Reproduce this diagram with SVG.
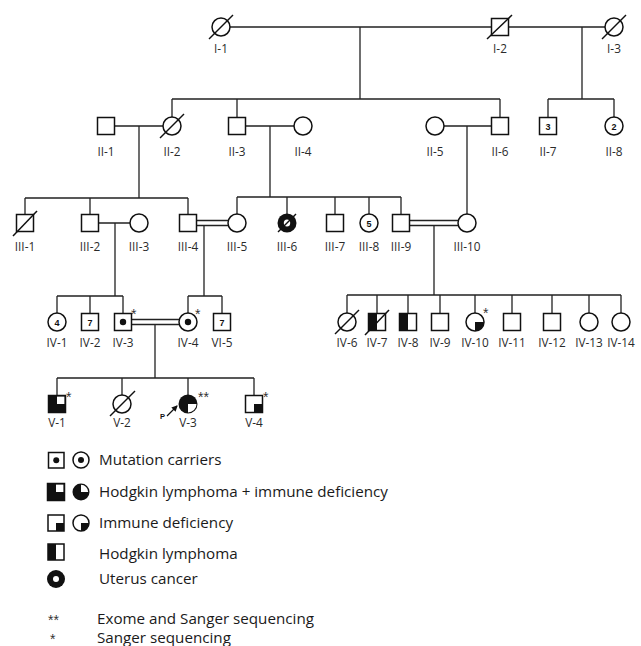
<svg xmlns="http://www.w3.org/2000/svg" width="641" height="646" viewBox="0 0 641 646">
<style>
.ln{stroke:#222;stroke-width:1.3;fill:none}
.s{stroke:#111;stroke-width:1.5;fill:#fff}
.f{fill:#111;stroke:none}
.sl{stroke:#111;stroke-width:1.5}
.lab{font-family:"Open Sans","Liberation Sans",sans-serif;font-size:11.8px;fill:#2a2a2a;text-anchor:middle}
.num{font-family:"Liberation Sans",sans-serif;font-size:9px;font-weight:bold;fill:#111;text-anchor:middle}
.ast{font-family:"Liberation Sans",sans-serif;font-size:14px;fill:#333}
.leg{font-family:"Open Sans","Liberation Sans",sans-serif;font-size:15.2px;fill:#1a1a1a}
</style>
<defs>
<marker id="ah" viewBox="0 0 6 6" refX="5" refY="3" markerWidth="5" markerHeight="5" orient="auto"><path d="M0,0 L6,3 L0,6 z" fill="#111"/></marker>
</defs>
<rect width="641" height="646" fill="#fff"/>
<g id="connectors">
<path class="ln" d="M230,27 H491 M508,27 H605 M360,27 V99 M172,99 H500 M172,99 V117 M237,99 V117.5 M500,99 V117.5 M582,27 V99 M548,99 H614 M548,99 V117.5 M614,99 V117"/>
<path class="ln" d="M114.5,126 H163 M139,126 V198 M245.5,126 H294 M270,126 V197 M444,126 H491.5 M467,126 V214"/>
<path class="ln" d="M25,198 H188 M25,198 V214.5 M90,198 V214.5 M188,198 V214.5 M237,197 H401 M237,197 V214 M287,197 V214 M335,197 V214.5 M369,197 V214 M401,197 V214.5"/>
<path class="ln" d="M98.5,223 H130 M115,223 V296 M196.5,220.5 H228 M196.5,225.5 H228 M204,225.5 V296 M409.5,220.5 H458 M409.5,225.5 H458 M434,225.5 V295"/>
<path class="ln" d="M57,296 H123 M57,296 V313 M90,296 V313.5 M123,296 V313.5 M188,296 H222 M188,296 V313 M222,296 V313.5 M347,295 H621 M347,295 V313 M377,295 V313.5 M408,295 V313.5 M440,295 V313.5 M475,295 V313 M512,295 V313.5 M552,295 V313.5 M589,295 V313 M621,295 V313"/>
<path class="ln" d="M131.5,319.5 H179 M131.5,324.5 H179 M155,324.5 V378 M57,378 H254 M57,378 V395.5 M122,378 V395 M188,378 V395 M254,378 V395.5"/>
</g>
<g id="I-1"><circle class="s" cx="221" cy="27" r="9"/><line class="sl" x1="209" y1="39" x2="233" y2="15"/><text class="lab" x="221" y="53">I-1</text></g>
<g id="I-2"><rect class="s" x="491.5" y="18.5" width="17" height="17"/><line class="sl" x1="487" y1="39" x2="512" y2="15"/><text class="lab" x="500" y="53">I-2</text></g>
<g id="I-3"><circle class="s" cx="614" cy="27" r="9"/><line class="sl" x1="602" y1="39" x2="626" y2="15"/><text class="lab" x="614" y="53">I-3</text></g>
<g id="II-1"><rect class="s" x="97.5" y="117.5" width="17" height="17"/><text class="lab" x="106" y="156">II-1</text></g>
<g id="II-2"><circle class="s" cx="172" cy="126" r="9"/><line class="sl" x1="160" y1="138" x2="184" y2="114"/><text class="lab" x="172" y="156">II-2</text></g>
<g id="II-3"><rect class="s" x="228.5" y="117.5" width="17" height="17"/><text class="lab" x="237" y="156">II-3</text></g>
<g id="II-4"><circle class="s" cx="303" cy="126" r="9"/><text class="lab" x="303" y="156">II-4</text></g>
<g id="II-5"><circle class="s" cx="435" cy="126" r="9"/><text class="lab" x="435" y="156">II-5</text></g>
<g id="II-6"><rect class="s" x="491.5" y="117.5" width="17" height="17"/><text class="lab" x="500" y="156">II-6</text></g>
<g id="II-7"><rect class="s" x="539.5" y="117.5" width="17" height="17"/><text class="num" x="548" y="129.5">3</text><text class="lab" x="548" y="156">II-7</text></g>
<g id="II-8"><circle class="s" cx="614" cy="126" r="9"/><text class="num" x="614" y="129.5">2</text><text class="lab" x="614" y="156">II-8</text></g>
<g id="III-1"><rect class="s" x="16.5" y="214.5" width="17" height="17"/><line class="sl" x1="13" y1="236" x2="37" y2="211"/><text class="lab" x="25" y="251">III-1</text></g>
<g id="III-2"><rect class="s" x="81.5" y="214.5" width="17" height="17"/><text class="lab" x="90" y="251">III-2</text></g>
<g id="III-3"><circle class="s" cx="139" cy="223" r="9"/><text class="lab" x="139" y="251">III-3</text></g>
<g id="III-4"><rect class="s" x="179.5" y="214.5" width="17" height="17"/><text class="lab" x="188" y="251">III-4</text></g>
<g id="III-5"><circle class="s" cx="237" cy="223" r="9"/><text class="lab" x="237" y="251">III-5</text></g>
<g id="III-6"><circle class="f" cx="287" cy="223" r="9.5"/><ellipse cx="287" cy="223" rx="3.2" ry="3.6" fill="#fff"/><line class="sl" x1="278" y1="232" x2="296" y2="214"/><text class="lab" x="287" y="251">III-6</text></g>
<g id="III-7"><rect class="s" x="326.5" y="214.5" width="17" height="17"/><text class="lab" x="335" y="251">III-7</text></g>
<g id="III-8"><circle class="s" cx="369" cy="223" r="9"/><text class="num" x="369" y="226.5">5</text><text class="lab" x="369" y="251">III-8</text></g>
<g id="III-9"><rect class="s" x="392.5" y="214.5" width="17" height="17"/><text class="lab" x="401" y="251">III-9</text></g>
<g id="III-10"><circle class="s" cx="467" cy="223" r="9"/><text class="lab" x="467" y="251">III-10</text></g>
<g id="IV-1"><circle class="s" cx="57" cy="322" r="9"/><text class="num" x="57" y="325.5">4</text><text class="lab" x="57" y="347">IV-1</text></g>
<g id="IV-2"><rect class="s" x="81.5" y="313.5" width="17" height="17"/><text class="num" x="90" y="325.5">7</text><text class="lab" x="90" y="347">IV-2</text></g>
<g id="IV-3"><rect class="s" x="114.5" y="313.5" width="17" height="17"/><circle class="f" cx="123" cy="322" r="3.2"/><text class="ast" x="131" y="319">*</text><text class="lab" x="123" y="347">IV-3</text></g>
<g id="IV-4"><circle class="s" cx="188" cy="322" r="9"/><circle class="f" cx="188" cy="322" r="3.2"/><text class="ast" x="195" y="319">*</text><text class="lab" x="188" y="347">IV-4</text></g>
<g id="VI-5"><rect class="s" x="213.5" y="313.5" width="17" height="17"/><text class="num" x="222" y="325.5">7</text><text class="lab" x="222" y="347">VI-5</text></g>
<g id="IV-6"><circle class="s" cx="347" cy="322" r="9"/><line class="sl" x1="335" y1="334" x2="359" y2="310"/><text class="lab" x="347" y="347">IV-6</text></g>
<g id="IV-7"><rect class="s" x="368.5" y="313.5" width="17" height="17"/><rect class="f" x="368.5" y="313.5" width="8.5" height="17"/><line class="sl" x1="365" y1="335" x2="389" y2="310"/><text class="lab" x="377" y="347">IV-7</text></g>
<g id="IV-8"><rect class="s" x="399.5" y="313.5" width="17" height="17"/><rect class="f" x="399.5" y="313.5" width="8.5" height="17"/><text class="lab" x="408" y="347">IV-8</text></g>
<g id="IV-9"><rect class="s" x="431.5" y="313.5" width="17" height="17"/><text class="lab" x="440" y="347">IV-9</text></g>
<g id="IV-10"><circle class="s" cx="475" cy="322" r="9"/><path class="f" d="M475,322 H484 A9,9 0 0 1 475,331 Z"/><text class="ast" x="483" y="318">*</text><text class="lab" x="475" y="347">IV-10</text></g>
<g id="IV-11"><rect class="s" x="503.5" y="313.5" width="17" height="17"/><text class="lab" x="512" y="347">IV-11</text></g>
<g id="IV-12"><rect class="s" x="543.5" y="313.5" width="17" height="17"/><text class="lab" x="552" y="347">IV-12</text></g>
<g id="IV-13"><circle class="s" cx="589" cy="322" r="9"/><text class="lab" x="589" y="347">IV-13</text></g>
<g id="IV-14"><circle class="s" cx="621" cy="322" r="9"/><text class="lab" x="621" y="347">IV-14</text></g>
<g id="V-1"><rect class="f" x="48.5" y="395.5" width="17" height="17"/><rect x="57" y="396.5" width="7.5" height="7.5" fill="#fff"/><rect x="48.5" y="395.5" width="17" height="17" fill="none" stroke="#111" stroke-width="1.5"/><text class="ast" x="66" y="402">*</text><text class="lab" x="57" y="427">V-1</text></g>
<g id="V-2"><circle class="s" cx="122" cy="404" r="9"/><line class="sl" x1="110" y1="416" x2="135" y2="391"/><text class="lab" x="122" y="427">V-2</text></g>
<g id="V-3"><circle class="f" cx="188" cy="404" r="9.5"/><path d="M188,404 H196.5 A8.5,8.5 0 0 1 188,412.5 Z" fill="#fff"/><text class="ast" x="198" y="402">**</text><text class="lab" x="188" y="427">V-3</text><text x="160" y="419" style="font-family:'Liberation Sans',sans-serif;font-size:7.5px;font-weight:bold;fill:#111">P</text><line x1="167" y1="416" x2="177" y2="406" stroke="#111" stroke-width="1.2" marker-end="url(#ah)"/></g>
<g id="V-4"><rect class="s" x="245.5" y="395.5" width="17" height="17"/><rect class="f" x="254" y="404" width="8.5" height="8.5"/><text class="ast" x="263" y="402">*</text><text class="lab" x="254" y="427">V-4</text></g>
<g id="legend">
<rect class="s" x="48.5" y="452.5" width="15.5" height="15.5"/><circle class="f" cx="56.25" cy="460.25" r="3"/>
<circle class="s" cx="81" cy="460" r="8"/><circle class="f" cx="81" cy="460" r="3"/>
<text class="leg" x="99" y="465">Mutation carriers</text>
<rect class="f" x="47.5" y="483.5" width="17" height="17"/><rect x="56" y="484.5" width="7.5" height="7.5" fill="#fff"/><rect x="47.5" y="483.5" width="17" height="17" fill="none" stroke="#111" stroke-width="1.5"/>
<circle class="f" cx="81" cy="492" r="8.5"/><path d="M81,492 V484.8 A7.2,7.2 0 0 1 88.2,492 Z" fill="#fff"/>
<text class="leg" x="99" y="497">Hodgkin lymphoma + immune deficiency</text>
<rect class="s" x="48" y="515" width="16" height="16"/><rect class="f" x="56" y="523" width="8" height="8"/>
<circle class="s" cx="81" cy="523" r="8"/><path class="f" d="M81,523 H89 A8,8 0 0 1 81,531 Z"/>
<text class="leg" x="99" y="528">Immune deficiency</text>
<rect class="s" x="48" y="544" width="16" height="16"/><rect class="f" x="48" y="544" width="8" height="16"/>
<text class="leg" x="99" y="559">Hodgkin lymphoma</text>
<circle class="f" cx="56" cy="579" r="9"/><circle cx="56" cy="579" r="3" fill="#fff"/>
<text class="leg" x="99" y="584">Uterus cancer</text>
<text class="ast" x="48" y="625">**</text>
<text class="leg" x="97" y="624">Exome and Sanger sequencing</text>
<text class="ast" x="50" y="644">*</text>
<text class="leg" x="97" y="643">Sanger sequencing</text>
</g>
</svg>
